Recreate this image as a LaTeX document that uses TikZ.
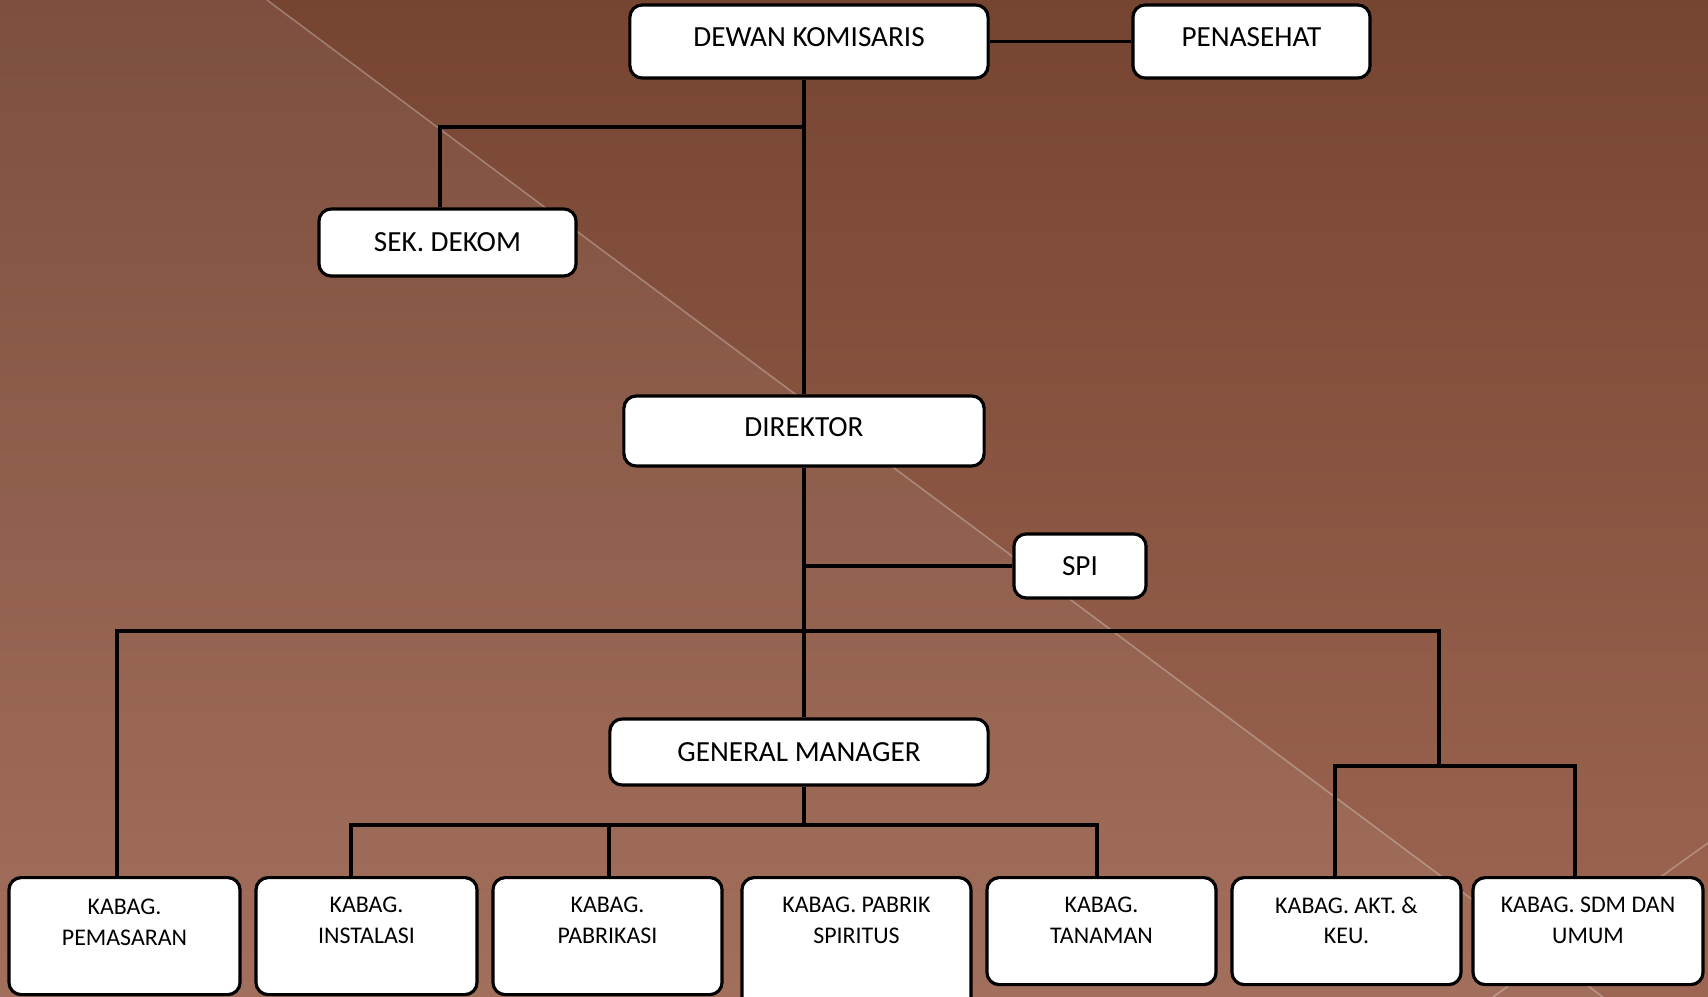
\documentclass[tikz,border=0pt]{standalone}
\usepackage{fontspec}
\setmainfont{Carlito}
\usetikzlibrary{positioning}
\definecolor{bgtop}{HTML}{764532}
\definecolor{bgbot}{HTML}{9D6652}
\tikzset{
  unit/.style={draw=black, line width=0.9pt, fill=white, rounded corners=3.5pt, inner sep=0pt, font=\fontsize{8.3}{10}\selectfont},
  raised/.style={text height=5.5pt, text depth=2.4pt},
  kabag/.style={unit, anchor=north, minimum width=2.29cm},
  kabagtext/.style={anchor=north, align=center, inner sep=0pt, font=\fontsize{6.8}{8.8}\selectfont},
  link/.style={line width=1pt},
  streak/.style={white, opacity=0.28, line width=0.45pt}
}
\begin{document}
\begin{tikzpicture}[x=0.01cm, y=-0.01cm]
\useasboundingbox (0,0) rectangle (1708,997);
\clip (0,0) rectangle (1708,997);
\shade[top color=bgtop, bottom color=bgbot] (0,0) rectangle (1708,997);
\fill[white, opacity=0.06] (0,0) -- (267,0) -- (1603,997) -- (0,997) -- cycle;
\draw[streak] (267,0) -- (1603,997);
\draw[streak] (1708,843) -- (1493,997);

\node[unit, raised, minimum width=3.58cm, minimum height=0.73cm] (dk) at (809,41.5) {DEWAN KOMISARIS};
\node[unit, raised, minimum width=2.37cm, minimum height=0.73cm] (pen) at (1251.5,41.5) {PENASEHAT};
\node[unit, minimum width=2.57cm, minimum height=0.67cm] (sek) at (447.5,242.5) {SEK. DEKOM};
\node[unit, raised, minimum width=3.6cm, minimum height=0.7cm] (dir) at (804,431) {DIREKTOR};
\node[unit, minimum width=1.32cm, minimum height=0.64cm] (spi) at (1080,566) {SPI};
\node[unit, minimum width=3.78cm, minimum height=0.66cm] (gm) at (799,752) {GENERAL MANAGER};

\node[kabag, minimum width=2.31cm, minimum height=1.17cm] (pem) at (124.5,876) {};
\node[kabag, minimum width=2.21cm, minimum height=1.17cm] (ins) at (366.5,876) {};
\node[kabag, minimum height=1.17cm] (pab) at (607.5,876) {};
\node[kabag, minimum height=1.40cm] (spir) at (856.5,876) {};
\node[kabag, minimum height=1.07cm] (tan) at (1101.5,876) {};
\node[kabag, minimum height=1.07cm] (akt) at (1346.5,876) {};
\node[kabag, minimum width=2.30cm, minimum height=1.07cm] (sdm) at (1588,876) {};

\node[kabagtext, below=0.225cm of pem.north] (pemtext) {KABAG.\\PEMASARAN};
\node[kabagtext, below=0.20cm of ins.north] (instext) {KABAG.\\INSTALASI};
\node[kabagtext, below=0.20cm of pab.north] (pabtext) {KABAG.\\PABRIKASI};
\node[kabagtext, below=0.20cm of spir.north] (spirtext) {KABAG. PABRIK\\SPIRITUS};
\node[kabagtext, below=0.20cm of tan.north] (tantext) {KABAG.\\TANAMAN};
\node[kabagtext, below=0.20cm of akt.north] (akttext) {KABAG. AKT. \&\\KEU.};
\node[kabagtext, below=0.20cm of sdm.north] (sdmtext) {KABAG. SDM DAN\\UMUM};

\coordinate (sekjoint) at (440,127);
\coordinate (spijoint) at (804,566);
\coordinate (wing) at (117,631);
\coordinate (wingend) at (1439,631);
\coordinate (fork) at (1335,766);
\coordinate (forkend) at (1575,766);
\coordinate (rail) at (351,825);
\coordinate (railmid) at (609,825);
\coordinate (railend) at (1097,825);

\draw[link] (dk.east) -- (pen.west);
\draw[link] (dk.south -| dir.north) -- (dir.north);
\draw[link] (sekjoint -| dir.north) -- (sekjoint) -- (sekjoint |- sek.north);
\draw[link] (dir.south) -- (dir.south |- gm.north);
\draw[link] (spijoint) -- (spi.west);
\draw[link] (wing |- pem.north) -- (wing) -- (wingend) -- (wingend |- fork);
\draw[link] (fork |- akt.north) -- (fork) -- (forkend) -- (forkend |- sdm.north);
\draw[link] (gm.south -| dir.south) -- (rail -| dir.south);
\draw[link] (rail |- ins.north) -- (rail) -- (railend) -- (railend |- tan.north);
\draw[link] (railmid) -- (railmid |- pab.north);
\end{tikzpicture}
\end{document}
